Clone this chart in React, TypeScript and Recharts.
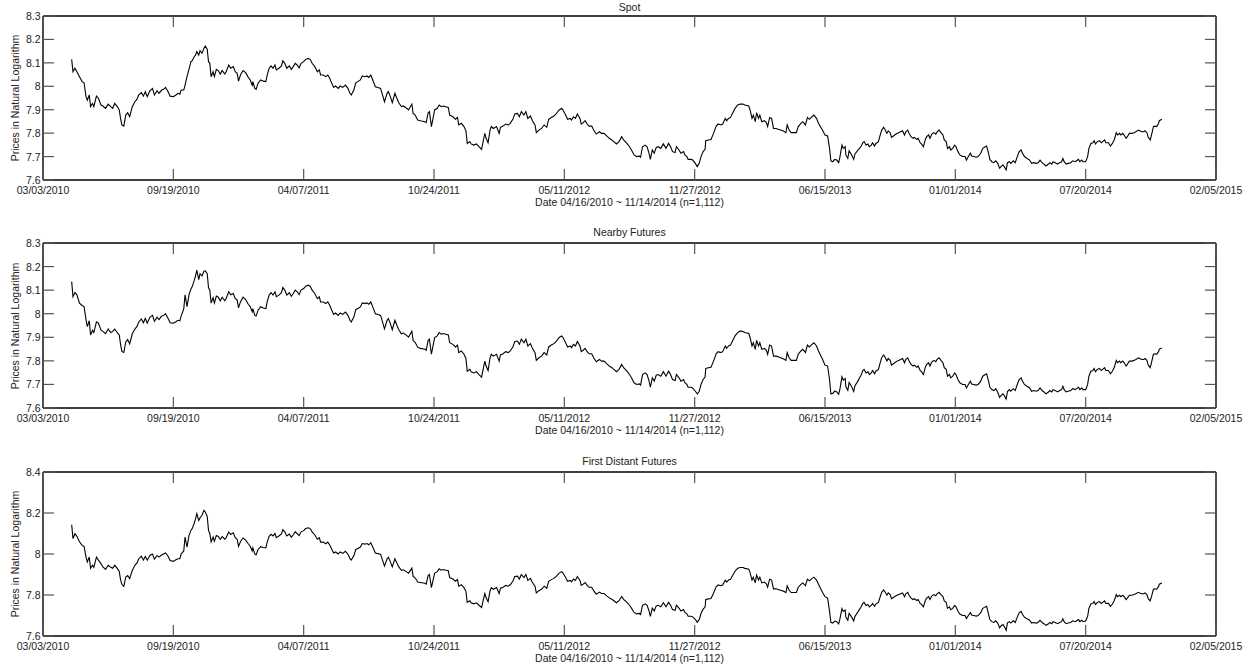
import { LineChart, Line, XAxis, YAxis } from "recharts";

// days since 03/03/2010 (first tick of the date axis)
const START_UTC = Date.UTC(2010, 2, 3);

const dayOffsets = [
  44, 46, 49, 52, 56, 60, 63, 66, 68, 71,
  73, 76, 78, 82, 85, 89, 92, 96, 100, 104,
  107, 110, 114, 117, 119, 121, 124, 127, 130, 133,
  137, 141, 144, 147, 151, 154, 157, 160, 164, 168,
  171, 175, 178, 182, 185, 188, 192, 195, 200, 204,
  207, 210, 212, 216, 218, 221, 224, 227, 229, 232,
  234, 236, 239, 241, 244, 247, 249, 252, 254, 256,
  258, 261, 263, 266, 269, 272, 275, 279, 281, 285,
  288, 292, 295, 298, 300, 303, 307, 311, 315, 318,
  321, 322, 325, 327, 330, 334, 338, 342, 344, 347,
  350, 353, 356, 358, 362, 366, 368, 371, 374, 378,
  381, 384, 387, 390, 393, 396, 400, 403, 407, 410,
  413, 417, 421, 424, 426, 430, 434, 437, 440, 442,
  446, 449, 453, 456, 460, 464, 468, 471, 473, 477,
  480, 483, 487, 490, 494, 497, 500, 503, 506, 510,
  514, 518, 521, 524, 528, 530, 533, 536, 540, 543,
  546, 550, 553, 558, 561, 566, 568, 571, 575,
  579, 586, 588, 591, 593, 596, 598, 601, 605, 608,
  611, 614, 618, 622, 624, 629, 633, 636, 638, 642,
  646, 649, 651, 655, 657, 661, 665, 669, 673, 675,
  678, 680, 683, 686, 688, 691, 696, 700, 702, 706,
  710, 714, 717, 721, 724, 728, 731, 734, 738, 741,
  744, 748, 751, 755, 757, 761, 765, 769, 773, 776,
  780, 784, 788, 792, 796, 798, 802, 805, 809, 811,
  814, 817, 820, 824, 826, 829, 832, 835, 838, 842,
  845, 849, 854, 857, 861, 865, 869, 873, 876, 880,
  884, 888, 891, 896, 900, 903, 907, 911, 915, 917,
  920, 924, 927, 930, 932, 935, 938, 941, 944, 948,
  952, 956, 960, 963, 966, 970, 972, 976, 979, 983,
  985, 988, 990, 994, 997, 1001, 1004, 1007, 1010, 1013,
  1016, 1017, 1021, 1025, 1029, 1033, 1036, 1040, 1043, 1047,
  1049, 1052, 1055, 1058, 1062, 1066, 1070, 1074, 1077, 1083,
  1085, 1088, 1090, 1093, 1095, 1098, 1100, 1103, 1107, 1110,
  1112, 1115, 1118, 1121, 1125, 1129, 1132, 1136, 1140, 1142,
  1145, 1148, 1152, 1156, 1159, 1163, 1166, 1170, 1173, 1176,
  1180, 1183, 1187, 1190,
  1196, 1200, 1204, 1207, 1209, 1212, 1215, 1218, 1221, 1223,
  1226, 1228, 1231, 1232, 1235, 1237, 1241, 1244, 1246, 1250,
  1253, 1255, 1258, 1260, 1263, 1266, 1268, 1271, 1273, 1276,
  1278, 1282, 1284, 1287, 1290, 1292, 1295, 1297, 1300, 1302,
  1305, 1309, 1313, 1316, 1319, 1322, 1324, 1327, 1329, 1332,
  1335, 1337, 1341, 1343, 1346, 1348, 1351, 1354, 1356, 1359,
  1361, 1364, 1367, 1370, 1372, 1375, 1378, 1381, 1383, 1386,
  1388, 1391, 1393, 1396, 1399, 1401, 1404, 1407, 1411, 1415,
  1417, 1420, 1423, 1425, 1428, 1432, 1435, 1439, 1442, 1446,
  1448, 1451, 1453, 1456, 1459, 1462, 1465, 1468, 1470, 1473,
  1475, 1478, 1480, 1483, 1485, 1489, 1492, 1495, 1498, 1501,
  1503, 1506, 1510, 1514, 1517, 1520, 1524, 1527, 1530, 1533,
  1536, 1539, 1543, 1545, 1548, 1550, 1553, 1557, 1560, 1563,
  1565, 1567, 1570, 1573, 1577, 1580, 1584, 1586, 1589, 1591,
  1594, 1596, 1600, 1603, 1605, 1608, 1611, 1613, 1615, 1618,
  1621, 1624, 1626, 1629, 1631, 1635, 1638, 1641, 1644, 1647,
  1649, 1652, 1654, 1657, 1659, 1662, 1664, 1667, 1671, 1674,
  1677, 1681, 1683, 1686, 1689, 1691, 1694, 1696, 1699, 1701,
  1704, 1706, 1709, 1712, 1713, 1717,
];

const spot = [
  8.115, 8.062, 8.077, 8.062, 8.041, 8.020, 8.015, 7.956, 7.941, 7.963,
  7.913, 7.927, 7.913, 7.958, 7.949, 7.920, 7.916, 7.906, 7.924, 7.913,
  7.906, 7.927, 7.913, 7.899, 7.863, 7.835, 7.830, 7.877, 7.887, 7.870,
  7.913, 7.934, 7.944, 7.963, 7.973, 7.958, 7.977, 7.956, 7.981, 7.991,
  7.963, 7.981, 7.970, 7.984, 7.987, 7.995, 7.977, 7.958, 7.956, 7.963,
  7.970, 7.966, 7.984, 7.984, 8.005, 8.041, 8.072, 8.105, 8.109, 8.126,
  8.133, 8.148, 8.133, 8.152, 8.141, 8.162, 8.172, 8.158, 8.105, 8.098,
  8.041, 8.062, 8.041, 8.072, 8.067, 8.052, 8.067, 8.052, 8.062, 8.091,
  8.077, 8.084, 8.062, 8.055, 8.022, 8.048, 8.067, 8.058, 8.038, 8.027,
  8.005, 8.020, 7.991, 7.987, 8.013, 8.027, 8.022, 8.020, 8.048, 8.077,
  8.087, 8.077, 8.091, 8.070, 8.077, 8.087, 8.109, 8.098, 8.077, 8.087,
  8.072, 8.084, 8.098, 8.091, 8.079, 8.098, 8.105, 8.115, 8.119, 8.115,
  8.098, 8.084, 8.062, 8.070, 8.048, 8.048, 8.041, 8.048, 8.034, 8.020,
  7.995, 8.001, 7.991, 8.001, 7.995, 8.005, 7.991, 7.970, 7.963, 7.984,
  8.015, 8.020, 8.027, 8.044, 8.041, 8.044, 8.038, 8.048, 8.027, 7.998,
  7.995, 7.991, 7.963, 7.934, 7.970, 7.977, 7.956, 7.930, 7.970, 7.949,
  7.930, 7.913, 7.916, 7.906, 7.899, 7.924, 7.884, 7.877, 7.856,
  7.853, 7.849, 7.845, 7.887, 7.892, 7.828, 7.856, 7.899, 7.906, 7.920,
  7.913, 7.916, 7.913, 7.910, 7.877, 7.870, 7.859, 7.867, 7.835, 7.842,
  7.828, 7.810, 7.756, 7.764, 7.754, 7.749, 7.754, 7.742, 7.731, 7.759,
  7.799, 7.778, 7.759, 7.813, 7.828, 7.820, 7.828, 7.799, 7.825, 7.830,
  7.839, 7.835, 7.842, 7.859, 7.882, 7.884, 7.870, 7.892, 7.877, 7.892,
  7.863, 7.873, 7.853, 7.835, 7.802, 7.813, 7.820, 7.835, 7.825, 7.859,
  7.867, 7.873, 7.884, 7.899, 7.906, 7.899, 7.877, 7.859, 7.863, 7.856,
  7.870, 7.863, 7.882, 7.863, 7.839, 7.845, 7.853, 7.839, 7.830, 7.830,
  7.813, 7.796, 7.806, 7.799, 7.799, 7.788, 7.778, 7.771, 7.764, 7.754,
  7.764, 7.785, 7.771, 7.756, 7.742, 7.728, 7.707, 7.700, 7.702, 7.697,
  7.742, 7.749, 7.742, 7.714, 7.688, 7.728, 7.714, 7.739, 7.742, 7.735,
  7.754, 7.735, 7.756, 7.742, 7.721, 7.717, 7.742, 7.728, 7.714, 7.721,
  7.707, 7.700, 7.688, 7.688, 7.685, 7.671, 7.657, 7.671, 7.702, 7.721,
  7.731, 7.768, 7.771, 7.773, 7.799, 7.830, 7.839, 7.835, 7.839, 7.863,
  7.853, 7.863, 7.867, 7.884, 7.906, 7.920, 7.924, 7.924, 7.920, 7.916,
  7.899, 7.863, 7.877, 7.849, 7.887, 7.863, 7.877, 7.849, 7.853, 7.845,
  7.828, 7.867, 7.863, 7.820, 7.820, 7.816, 7.813, 7.809, 7.802, 7.835,
  7.813, 7.802, 7.802, 7.802, 7.828, 7.842, 7.849, 7.835, 7.867, 7.859,
  7.870, 7.877, 7.863, 7.842,
  7.813, 7.792, 7.788, 7.735, 7.682, 7.678, 7.688, 7.685, 7.674, 7.700,
  7.749, 7.735, 7.742, 7.707, 7.692, 7.725, 7.707, 7.688, 7.711, 7.725,
  7.735, 7.742, 7.759, 7.764, 7.749, 7.754, 7.742, 7.749, 7.759, 7.745,
  7.756, 7.764, 7.785, 7.813, 7.825, 7.816, 7.799, 7.810, 7.802, 7.782,
  7.788, 7.796, 7.802, 7.806, 7.810, 7.792, 7.806, 7.813, 7.799, 7.785,
  7.778, 7.782, 7.773, 7.778, 7.759, 7.754, 7.742, 7.773, 7.785, 7.792,
  7.778, 7.796, 7.802, 7.796, 7.806, 7.813, 7.802, 7.792, 7.771, 7.764,
  7.735, 7.742, 7.728, 7.735, 7.749, 7.742, 7.721, 7.707, 7.700, 7.700,
  7.685, 7.700, 7.714, 7.702, 7.700, 7.697, 7.700, 7.714, 7.735, 7.742,
  7.745, 7.714, 7.688, 7.678, 7.674, 7.682, 7.671, 7.650, 7.657, 7.664,
  7.657, 7.643, 7.674, 7.678, 7.671, 7.682, 7.674, 7.700, 7.721, 7.728,
  7.714, 7.700, 7.692, 7.685, 7.671, 7.674, 7.671, 7.674, 7.685, 7.674,
  7.668, 7.660, 7.668, 7.674, 7.668, 7.678, 7.674, 7.668, 7.674, 7.678,
  7.692, 7.678, 7.668, 7.671, 7.674, 7.682, 7.678, 7.682, 7.688, 7.678,
  7.685, 7.678, 7.678, 7.700, 7.735, 7.756, 7.759, 7.768, 7.754, 7.764,
  7.768, 7.759, 7.764, 7.771, 7.759, 7.759, 7.745, 7.756, 7.773, 7.802,
  7.792, 7.799, 7.792, 7.799, 7.792, 7.778, 7.785, 7.799, 7.799, 7.802,
  7.806, 7.813, 7.810, 7.806, 7.806, 7.810, 7.802, 7.782, 7.771, 7.792,
  7.828, 7.830, 7.828, 7.842, 7.853, 7.859,
];

const nearby = [
  8.136, 8.072, 8.090, 8.080, 8.045, 8.035, 8.030, 7.975, 7.945, 7.970,
  7.910, 7.930, 7.920, 7.965, 7.960, 7.930, 7.925, 7.915, 7.935, 7.920,
  7.925, 7.935, 7.920, 7.910, 7.870, 7.840, 7.836, 7.880, 7.890, 7.872,
  7.915, 7.935, 7.945, 7.965, 7.978, 7.962, 7.980, 7.960, 7.985, 7.993,
  7.968, 7.985, 7.975, 7.990, 7.992, 8.000, 7.980, 7.962, 7.960, 7.966,
  7.972, 7.970, 7.990, 8.020, 8.080, 8.030, 8.080, 8.105, 8.115, 8.140,
  8.160, 8.185, 8.145, 8.170, 8.160, 8.180, 8.182, 8.170, 8.110, 8.100,
  8.045, 8.068, 8.045, 8.075, 8.070, 8.055, 8.070, 8.055, 8.065, 8.093,
  8.080, 8.086, 8.065, 8.058, 8.025, 8.050, 8.070, 8.060, 8.040, 8.030,
  8.008, 8.022, 7.993, 7.990, 8.015, 8.030, 8.024, 8.022, 8.050, 8.079,
  8.089, 8.079, 8.093, 8.072, 8.079, 8.089, 8.111, 8.100, 8.079, 8.089,
  8.074, 8.086, 8.100, 8.093, 8.081, 8.100, 8.107, 8.117, 8.121, 8.117,
  8.100, 8.086, 8.064, 8.072, 8.050, 8.050, 8.043, 8.050, 8.036, 8.022,
  7.997, 8.003, 7.993, 8.003, 7.997, 8.007, 7.993, 7.972, 7.965, 7.986,
  8.017, 8.022, 8.029, 8.046, 8.043, 8.046, 8.040, 8.050, 8.029, 8.000,
  7.997, 7.993, 7.965, 7.936, 7.972, 7.979, 7.958, 7.932, 7.972, 7.951,
  7.932, 7.915, 7.918, 7.908, 7.901, 7.926, 7.886, 7.879, 7.858,
  7.853, 7.849, 7.845, 7.887, 7.892, 7.828, 7.856, 7.899, 7.906, 7.920,
  7.913, 7.916, 7.913, 7.910, 7.877, 7.870, 7.859, 7.867, 7.835, 7.842,
  7.828, 7.810, 7.756, 7.764, 7.754, 7.749, 7.754, 7.742, 7.731, 7.759,
  7.799, 7.778, 7.759, 7.813, 7.828, 7.820, 7.828, 7.799, 7.825, 7.830,
  7.839, 7.835, 7.842, 7.859, 7.882, 7.884, 7.870, 7.892, 7.877, 7.892,
  7.863, 7.873, 7.853, 7.835, 7.802, 7.813, 7.820, 7.835, 7.825, 7.859,
  7.867, 7.873, 7.884, 7.899, 7.906, 7.899, 7.877, 7.859, 7.863, 7.856,
  7.870, 7.863, 7.882, 7.863, 7.839, 7.845, 7.853, 7.839, 7.830, 7.830,
  7.813, 7.796, 7.806, 7.799, 7.799, 7.788, 7.778, 7.771, 7.764, 7.754,
  7.764, 7.785, 7.771, 7.756, 7.742, 7.728, 7.707, 7.700, 7.702, 7.697,
  7.742, 7.749, 7.742, 7.714, 7.688, 7.728, 7.714, 7.739, 7.742, 7.735,
  7.754, 7.735, 7.756, 7.742, 7.721, 7.717, 7.742, 7.728, 7.714, 7.721,
  7.707, 7.700, 7.688, 7.688, 7.685, 7.671, 7.660, 7.671, 7.702, 7.721,
  7.731, 7.768, 7.771, 7.773, 7.799, 7.830, 7.839, 7.835, 7.839, 7.863,
  7.853, 7.863, 7.867, 7.884, 7.906, 7.920, 7.927, 7.924, 7.920, 7.916,
  7.899, 7.863, 7.877, 7.849, 7.887, 7.863, 7.877, 7.849, 7.853, 7.845,
  7.828, 7.867, 7.863, 7.820, 7.820, 7.816, 7.813, 7.809, 7.802, 7.835,
  7.813, 7.802, 7.802, 7.802, 7.828, 7.842, 7.849, 7.835, 7.867, 7.859,
  7.870, 7.877, 7.863, 7.842,
  7.808, 7.782, 7.778, 7.720, 7.660, 7.662, 7.672, 7.668, 7.658, 7.682,
  7.732, 7.718, 7.725, 7.690, 7.675, 7.708, 7.690, 7.670, 7.695, 7.712,
  7.728, 7.737, 7.759, 7.764, 7.749, 7.754, 7.742, 7.749, 7.759, 7.745,
  7.756, 7.764, 7.785, 7.813, 7.825, 7.816, 7.799, 7.810, 7.802, 7.782,
  7.788, 7.796, 7.802, 7.806, 7.810, 7.792, 7.806, 7.813, 7.799, 7.785,
  7.778, 7.782, 7.773, 7.778, 7.759, 7.754, 7.742, 7.773, 7.785, 7.792,
  7.778, 7.796, 7.802, 7.796, 7.806, 7.813, 7.802, 7.792, 7.771, 7.764,
  7.735, 7.742, 7.728, 7.735, 7.749, 7.742, 7.721, 7.707, 7.700, 7.700,
  7.685, 7.700, 7.714, 7.702, 7.700, 7.697, 7.700, 7.714, 7.735, 7.742,
  7.745, 7.714, 7.688, 7.678, 7.674, 7.682, 7.667, 7.645, 7.653, 7.660,
  7.653, 7.638, 7.670, 7.678, 7.671, 7.682, 7.674, 7.700, 7.721, 7.728,
  7.714, 7.700, 7.692, 7.685, 7.671, 7.674, 7.671, 7.674, 7.685, 7.674,
  7.668, 7.660, 7.668, 7.674, 7.668, 7.678, 7.674, 7.668, 7.674, 7.678,
  7.692, 7.678, 7.668, 7.671, 7.674, 7.682, 7.678, 7.682, 7.688, 7.678,
  7.685, 7.678, 7.678, 7.700, 7.735, 7.756, 7.759, 7.768, 7.754, 7.764,
  7.768, 7.759, 7.764, 7.771, 7.759, 7.759, 7.745, 7.756, 7.773, 7.802,
  7.792, 7.799, 7.792, 7.799, 7.792, 7.778, 7.785, 7.799, 7.799, 7.802,
  7.806, 7.813, 7.810, 7.806, 7.806, 7.810, 7.802, 7.782, 7.771, 7.792,
  7.828, 7.830, 7.828, 7.840, 7.850, 7.855,
];

const firstDistant = [
  8.143, 8.075, 8.099, 8.086, 8.060, 8.042, 8.037, 7.985, 7.961, 7.985,
  7.930, 7.945, 7.935, 7.985, 7.970, 7.953, 7.937, 7.925, 7.945, 7.935,
  7.930, 7.945, 7.930, 7.915, 7.875, 7.852, 7.842, 7.888, 7.895, 7.880,
  7.920, 7.945, 7.955, 7.977, 7.989, 7.970, 7.988, 7.970, 7.993, 8.000,
  7.975, 7.993, 7.985, 7.995, 8.000, 8.005, 7.989, 7.968, 7.964, 7.972,
  7.977, 7.977, 8.000, 8.015, 8.083, 8.034, 8.090, 8.115, 8.124, 8.150,
  8.170, 8.197, 8.164, 8.177, 8.189, 8.213, 8.205, 8.184, 8.115, 8.099,
  8.059, 8.083, 8.062, 8.090, 8.086, 8.072, 8.085, 8.072, 8.080, 8.107,
  8.095, 8.103, 8.080, 8.072, 8.037, 8.060, 8.078, 8.068, 8.050, 8.038,
  8.015, 8.030, 8.000, 7.996, 8.022, 8.036, 8.032, 8.030, 8.058, 8.086,
  8.096, 8.088, 8.100, 8.080, 8.088, 8.098, 8.119, 8.108, 8.088, 8.097,
  8.082, 8.094, 8.108, 8.100, 8.090, 8.108, 8.114, 8.124, 8.128, 8.124,
  8.108, 8.094, 8.072, 8.080, 8.058, 8.058, 8.050, 8.058, 8.044, 8.030,
  8.005, 8.010, 8.000, 8.010, 8.003, 8.013, 7.999, 7.977, 7.970, 7.991,
  8.022, 8.027, 8.034, 8.051, 8.048, 8.051, 8.045, 8.055, 8.034, 8.005,
  8.002, 7.998, 7.970, 7.941, 7.977, 7.984, 7.963, 7.937, 7.977, 7.956,
  7.937, 7.920, 7.923, 7.913, 7.906, 7.931, 7.891, 7.884, 7.863,
  7.861, 7.857, 7.853, 7.895, 7.900, 7.836, 7.864, 7.907, 7.914, 7.928,
  7.921, 7.924, 7.921, 7.918, 7.885, 7.878, 7.867, 7.875, 7.843, 7.850,
  7.836, 7.818, 7.764, 7.772, 7.762, 7.757, 7.762, 7.750, 7.739, 7.767,
  7.807, 7.786, 7.767, 7.821, 7.836, 7.828, 7.836, 7.807, 7.833, 7.838,
  7.847, 7.843, 7.850, 7.867, 7.890, 7.892, 7.878, 7.900, 7.885, 7.900,
  7.871, 7.881, 7.861, 7.843, 7.810, 7.821, 7.828, 7.843, 7.833, 7.867,
  7.875, 7.881, 7.892, 7.907, 7.914, 7.907, 7.885, 7.867, 7.871, 7.864,
  7.878, 7.871, 7.890, 7.871, 7.847, 7.853, 7.861, 7.847, 7.838, 7.838,
  7.821, 7.804, 7.814, 7.807, 7.807, 7.796, 7.786, 7.779, 7.772, 7.762,
  7.772, 7.793, 7.779, 7.764, 7.750, 7.736, 7.715, 7.708, 7.710, 7.705,
  7.750, 7.757, 7.750, 7.722, 7.696, 7.736, 7.722, 7.747, 7.750, 7.743,
  7.762, 7.743, 7.764, 7.750, 7.729, 7.725, 7.750, 7.736, 7.722, 7.729,
  7.715, 7.708, 7.696, 7.696, 7.693, 7.681, 7.667, 7.681, 7.712, 7.731,
  7.741, 7.778, 7.781, 7.783, 7.809, 7.840, 7.849, 7.845, 7.849, 7.873,
  7.863, 7.873, 7.877, 7.894, 7.916, 7.930, 7.934, 7.934, 7.930, 7.926,
  7.909, 7.873, 7.887, 7.859, 7.897, 7.873, 7.887, 7.859, 7.863, 7.855,
  7.838, 7.877, 7.873, 7.830, 7.830, 7.826, 7.823, 7.819, 7.812, 7.845,
  7.823, 7.812, 7.812, 7.812, 7.838, 7.852, 7.859, 7.845, 7.877, 7.869,
  7.880, 7.887, 7.873, 7.852,
  7.813, 7.792, 7.785, 7.720, 7.667, 7.663, 7.673, 7.670, 7.659, 7.685,
  7.734, 7.720, 7.727, 7.692, 7.677, 7.710, 7.692, 7.673, 7.696, 7.715,
  7.730, 7.740, 7.759, 7.764, 7.749, 7.754, 7.742, 7.749, 7.759, 7.745,
  7.756, 7.764, 7.785, 7.813, 7.825, 7.816, 7.799, 7.810, 7.802, 7.782,
  7.788, 7.796, 7.802, 7.806, 7.810, 7.792, 7.806, 7.813, 7.799, 7.785,
  7.778, 7.782, 7.773, 7.778, 7.759, 7.754, 7.742, 7.773, 7.785, 7.792,
  7.778, 7.796, 7.802, 7.796, 7.806, 7.813, 7.802, 7.792, 7.771, 7.764,
  7.735, 7.742, 7.728, 7.735, 7.749, 7.742, 7.721, 7.707, 7.700, 7.700,
  7.685, 7.700, 7.714, 7.702, 7.700, 7.697, 7.700, 7.714, 7.735, 7.742,
  7.745, 7.706, 7.680, 7.670, 7.666, 7.674, 7.663, 7.640, 7.649, 7.656,
  7.647, 7.628, 7.664, 7.670, 7.663, 7.674, 7.666, 7.692, 7.713, 7.720,
  7.706, 7.692, 7.684, 7.677, 7.663, 7.666, 7.663, 7.666, 7.677, 7.666,
  7.660, 7.652, 7.660, 7.666, 7.660, 7.670, 7.666, 7.660, 7.666, 7.670,
  7.684, 7.670, 7.660, 7.663, 7.666, 7.674, 7.670, 7.674, 7.680, 7.670,
  7.677, 7.670, 7.673, 7.696, 7.735, 7.756, 7.759, 7.768, 7.754, 7.764,
  7.768, 7.759, 7.764, 7.771, 7.759, 7.759, 7.745, 7.756, 7.773, 7.802,
  7.792, 7.799, 7.792, 7.799, 7.792, 7.778, 7.785, 7.799, 7.799, 7.802,
  7.806, 7.813, 7.810, 7.806, 7.806, 7.810, 7.802, 7.782, 7.771, 7.792,
  7.828, 7.830, 7.828, 7.842, 7.853, 7.859,
];

const xTicks = [0, 200, 400, 600, 800, 1000, 1200, 1400, 1600, 1800];
const yTicksNarrow = [7.6, 7.7, 7.8, 7.9, 8.0, 8.1, 8.2, 8.3];
const yTicksWide = [7.6, 7.8, 8.0, 8.2, 8.4];

const xAxisTitle = "Date 04/16/2010 ~ 11/14/2014 (n=1,112)";
const yAxisTitle = "Prices in Natural Logarithm";

const FONT = '"Liberation Sans", Arial, Helvetica, sans-serif';
const TEXT = "#222";
const TICK_LEN = 11;
const TICK_COLOR = "#555";
const PLOT_LEFT = 43;
const PLOT_RIGHT = 1216;
const CHART_H = 200;
const X_AXIS_H = 20;
const PLOT_BOTTOM = CHART_H - X_AXIS_H; // inside each chart

function formatDate(offset: number) {
  const d = new Date(START_UTC + offset * 86400000);
  const mm = String(d.getUTCMonth() + 1).padStart(2, "0");
  const dd = String(d.getUTCDate()).padStart(2, "0");
  return `${mm}/${dd}/${d.getUTCFullYear()}`;
}

function formatPrice(v: number) {
  return String(Number(v.toFixed(1)));
}

function BottomTick(props: any) {
  const { x, payload } = props;
  return (
    <g>
      <line x1={x} y1={PLOT_BOTTOM} x2={x} y2={PLOT_BOTTOM - TICK_LEN} stroke={TICK_COLOR} strokeWidth={1.2} />
      <text x={x} y={PLOT_BOTTOM + 10} textAnchor="middle" dominantBaseline="central" fontSize={10.5} fontFamily={FONT} fill={TEXT}>
        {formatDate(payload.value)}
      </text>
    </g>
  );
}

function makeTopTick(plotTop: number) {
  return (props: any) => (
    <line x1={props.x} y1={plotTop} x2={props.x} y2={plotTop + TICK_LEN} stroke={TICK_COLOR} strokeWidth={1.2} />
  );
}

function LeftTick(props: any) {
  const { y, payload } = props;
  return (
    <g>
      <line x1={PLOT_LEFT} y1={y} x2={PLOT_LEFT + TICK_LEN} y2={y} stroke={TICK_COLOR} strokeWidth={1.2} />
      <text x={PLOT_LEFT - 2.5} y={y} textAnchor="end" dominantBaseline="central" fontSize={10.5} fontFamily={FONT} fill={TEXT}>
        {formatPrice(payload.value)}
      </text>
    </g>
  );
}

function RightTick(props: any) {
  const { y } = props;
  return <line x1={PLOT_RIGHT} y1={y} x2={PLOT_RIGHT - TICK_LEN} y2={y} stroke={TICK_COLOR} strokeWidth={1.2} />;
}

interface PanelProps {
  title: string;
  values: number[];
  top: number;
  marginTop: number;
  yDomain: [number, number];
  yTicks: number[];
}

function Panel({ title, values, top, marginTop, yDomain, yTicks }: PanelProps) {
  const data = dayOffsets.map((day, i) => ({ day, v: values[i] }));
  const innerTop = marginTop + 1;
  const plotTop = top + innerTop;
  const plotBottom = top + PLOT_BOTTOM;
  const centerX = (PLOT_LEFT + PLOT_RIGHT) / 2;
  const TopTick = makeTopTick(innerTop);
  const label = (x: number, y: number, text: string, rotate = false) => (
    <div
      style={{
        position: "absolute",
        left: x,
        top: y,
        transform: `translate(-50%, -50%)${rotate ? " rotate(-90deg)" : ""}`,
        whiteSpace: "nowrap",
        fontFamily: FONT,
        fontSize: 10.5,
        color: TEXT,
        lineHeight: 1,
      }}
    >
      {text}
    </div>
  );
  const frame = { stroke: "#000", strokeWidth: 1.4 };

  return (
    <>
      <div style={{ position: "absolute", left: 0, top }}>
        <LineChart width={1256} height={CHART_H} data={data} margin={{ top: marginTop, right: 39, bottom: 0, left: 0 }}>
          <XAxis
            xAxisId="bottom"
            dataKey="day"
            type="number"
            domain={[0, 1800]}
            ticks={xTicks}
            interval={0}
            tickSize={0}
            tickMargin={0}
            height={X_AXIS_H}
            axisLine={frame}
            tickLine={false}
            tick={(p: any) => <BottomTick {...p} />}
            allowDataOverflow
          />
          <XAxis
            xAxisId="top"
            orientation="top"
            dataKey="day"
            type="number"
            domain={[0, 1800]}
            ticks={xTicks}
            interval={0}
            tickSize={0}
            tickMargin={0}
            height={1}
            axisLine={frame}
            tickLine={false}
            tick={(p: any) => <TopTick {...p} />}
            allowDataOverflow
          />
          <YAxis
            yAxisId="left"
            type="number"
            domain={yDomain}
            ticks={yTicks}
            interval={0}
            tickSize={0}
            tickMargin={0}
            width={PLOT_LEFT}
            axisLine={frame}
            tickLine={false}
            tick={(p: any) => <LeftTick {...p} />}
            allowDataOverflow
          />
          <YAxis
            yAxisId="right"
            orientation="right"
            type="number"
            domain={yDomain}
            ticks={yTicks}
            interval={0}
            tickSize={0}
            tickMargin={0}
            width={1}
            axisLine={frame}
            tickLine={false}
            tick={(p: any) => <RightTick {...p} />}
            allowDataOverflow
          />
          <Line
            xAxisId="top"
            yAxisId="right"
            type="linear"
            dataKey="v"
            stroke="none"
            strokeWidth={0}
            dot={false}
            activeDot={false}
            isAnimationActive={false}
          />
          <Line
            xAxisId="bottom"
            yAxisId="left"
            type="linear"
            dataKey="v"
            stroke="#000"
            strokeWidth={1.1}
            dot={false}
            activeDot={false}
            isAnimationActive={false}
          />
        </LineChart>
      </div>
      {label(centerX, Math.max(plotTop - 11.5, 6.5), title)}
      {label(centerX, plotBottom + 21.5, xAxisTitle)}
      {label(15, (plotTop + plotBottom) / 2, yAxisTitle, true)}
    </>
  );
}

export default function App() {
  return (
    <div style={{ position: "absolute", left: 0, top: 0, width: 1256, height: 667, background: "#fff", overflow: "hidden" }}>
      <Panel title="Spot" values={spot} top={0} marginTop={15} yDomain={[7.6, 8.3]} yTicks={yTicksNarrow} />
      <Panel title="Nearby Futures" values={nearby} top={228} marginTop={14} yDomain={[7.6, 8.3]} yTicks={yTicksNarrow} />
      <Panel title="First Distant Futures" values={firstDistant} top={456} marginTop={15} yDomain={[7.6, 8.4]} yTicks={yTicksWide} />
    </div>
  );
}
